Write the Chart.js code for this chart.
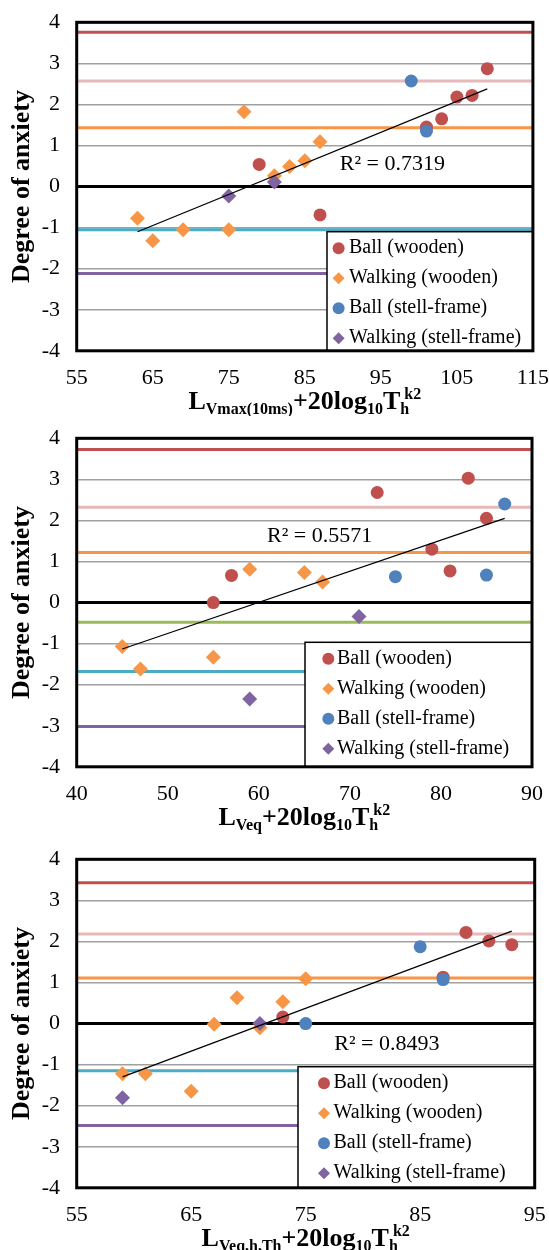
<!DOCTYPE html>
<html>
<head>
<meta charset="utf-8">
<script src="https://cdn.jsdelivr.net/npm/chart.js@4.4.0/dist/chart.umd.min.js"></script>
<style>
  body { margin: 0; background: #fff; width: 549px; height: 1250px; position: relative; overflow: hidden; }
  canvas { position: absolute; left: 0; }
</style>
</head>
<body>
<canvas id="chart1" width="549" height="416" style="top:0px;width:549px;height:416px"></canvas>
<canvas id="chart2" width="549" height="421" style="top:416px;width:549px;height:421px"></canvas>
<canvas id="chart3" width="549" height="413" style="top:837px;width:549px;height:413px"></canvas>
<script>
const seriesNames = ["Ball (wooden)", "Walking (wooden)", "Ball (stell-frame)", "Walking (stell-frame)"];
const seriesColors = ["#C0504D", "#F79646", "#4F81BD", "#8064A2"];
const seriesShapes = ["circle", "rectRot", "circle", "rectRot"];
const yLabel = "Degree of anxiety";
const yTicks = [-4, -3, -2, -1, 0, 1, 2, 3, 4];

// panel 1: L_Vmax(10ms)
const xTicks1 = [55, 65, 75, 85, 95, 105, 115];
const ballWoodX1 = [79, 87, 101, 103, 105, 107, 109];
const ballWoodY1 = [0.54, -0.69, 1.45, 1.65, 2.18, 2.22, 2.87];
const walkWoodX1 = [63, 65, 69, 75, 77, 81, 83, 85, 87];
const walkWoodY1 = [-0.77, -1.32, -1.05, -1.05, 1.82, 0.26, 0.49, 0.63, 1.09];
const ballSteelX1 = [99, 101];
const ballSteelY1 = [2.57, 1.35];
const walkSteelX1 = [75, 81];
const walkSteelY1 = [-0.23, 0.11];
const trendX1 = [63, 109];
const trendY1 = [-1.10, 2.38];
const levels1 = [3.76, 2.57, 1.43, -1.05, -2.12];
const r2Text1 = "R\u00B2 = 0.7319";

// panel 2: L_Veq
const xTicks2 = [40, 50, 60, 70, 80, 90];
const ballWoodX2 = [55, 57, 73, 79, 81, 83, 85];
const ballWoodY2 = [0.0, 0.66, 2.68, 1.30, 0.77, 3.03, 2.05];
const walkWoodX2 = [45, 47, 55, 59, 65, 67];
const walkWoodY2 = [-1.07, -1.62, -1.33, 0.81, 0.73, 0.50];
const ballSteelX2 = [75, 85, 87];
const ballSteelY2 = [0.63, 0.67, 2.40];
const walkSteelX2 = [59, 71];
const walkSteelY2 = [-2.35, -0.34];
const trendX2 = [45, 87];
const trendY2 = [-1.13, 2.05];
const levels2 = [3.73, 2.32, 1.22, -0.48, -1.68, -3.02];
const r2Text2 = "R\u00B2 = 0.5571";

// panel 3: L_Veq,h,Th
const xTicks3 = [55, 65, 75, 85, 95];
const ballWoodX3 = [73, 87, 89, 91, 93];
const ballWoodY3 = [0.16, 1.13, 2.22, 2.01, 1.92];
const walkWoodX3 = [59, 61, 65, 67, 69, 71, 73, 75];
const walkWoodY3 = [-1.22, -1.22, -1.65, -0.02, 0.63, -0.10, 0.53, 1.09];
const ballSteelX3 = [75, 85, 87];
const ballSteelY3 = [0.0, 1.87, 1.07];
const walkSteelX3 = [59, 71];
const walkSteelY3 = [-1.81, 0.0];
const trendX3 = [59, 93];
const trendY3 = [-1.30, 2.25];
const levels3 = [3.43, 2.18, 1.11, -1.15, -2.48];
const r2Text3 = "R\u00B2 = 0.8493";

const levelColors1 = ["#C0504D", "#E6B9B8", "#F79646", "#4BACC6", "#8064A2"];
const levelColors2 = ["#C0504D", "#E6B9B8", "#F79646", "#9BBB59", "#4BACC6", "#8064A2"];
const levelColors3 = ["#C0504D", "#E6B9B8", "#F79646", "#4BACC6", "#8064A2"];

const SERIF = "'Liberation Serif', 'Times New Roman', serif";
const AREA_TOP = 22.3;
const AREA_BOTTOM = 350.8;

function pts(xs, ys) {
  return xs.map((v, i) => ({ x: v, y: ys[i] }));
}

function markerPath(ctx, shape, x, y, r) {
  ctx.beginPath();
  if (shape === "circle") {
    ctx.arc(x, y, r, 0, Math.PI * 2);
  } else {
    ctx.moveTo(x - r, y);
    ctx.lineTo(x, y - r);
    ctx.lineTo(x + r, y);
    ctx.lineTo(x, y + r);
    ctx.closePath();
  }
  ctx.fill();
}

// title parts: [text, 0 normal | 1 sub | 2 sup]
function drawRichTitle(ctx, parts, cx, baseY) {
  const mainFont = "bold 26px " + SERIF;
  const smallFont = "bold 16px " + SERIF;
  const items = [];
  let x = 0, lastSubX = null;
  parts.forEach(([t, k]) => {
    ctx.font = k === 0 ? mainFont : smallFont;
    const w = ctx.measureText(t).width;
    if (k === 2 && lastSubX !== null) {
      const sx = lastSubX + 4;
      items.push({ t, k, x: sx });
      x = Math.max(x, sx + w);
    } else {
      items.push({ t, k, x });
      lastSubX = k === 1 ? x : null;
      x += w;
    }
  });
  const start = cx - x / 2;
  ctx.fillStyle = "#000";
  ctx.textBaseline = "alphabetic";
  ctx.textAlign = "left";
  items.forEach(it => {
    ctx.font = it.k === 0 ? mainFont : smallFont;
    const dy = it.k === 1 ? 5 : it.k === 2 ? -10 : 0;
    ctx.fillText(it.t, start + it.x, baseY + dy);
  });
}

const panelDecor = {
  id: "panelDecor",
  afterDatasetsDraw(chart, args, opts) {
    const { ctx, chartArea: a, scales: { x, y } } = chart;
    ctx.save();

    ctx.font = "22px " + SERIF;
    ctx.fillStyle = "#000";
    ctx.textBaseline = "middle";
    ctx.textAlign = "left";
    ctx.fillText(opts.r2, x.getPixelForValue(opts.r2At[0]), y.getPixelForValue(opts.r2At[1]));

    const L = opts.legend;
    ctx.fillStyle = "#fff";
    ctx.fillRect(L.left, L.top, a.right - L.left, a.bottom - L.top);
    ctx.strokeStyle = "#000";
    ctx.lineWidth = 1.5;
    ctx.strokeRect(L.left, L.top, a.right - L.left, a.bottom - L.top);
    ctx.font = "20px " + SERIF;
    seriesNames.forEach((name, i) => {
      const cy = L.top + 16.5 + i * 30;
      ctx.fillStyle = seriesColors[i];
      markerPath(ctx, seriesShapes[i], L.mark, cy, 6);
      ctx.fillStyle = "#000";
      ctx.fillText(name, L.text, cy);
    });

    ctx.strokeStyle = "#000";
    ctx.lineWidth = 3;
    ctx.strokeRect(a.left, a.top, a.right - a.left, a.bottom - a.top);

    drawRichTitle(ctx, opts.title, (a.left + a.right) / 2, 409);
    ctx.restore();
  }
};

function makeChart(id, p) {
  const canvas = document.getElementById(id);
  const H = canvas.height;
  const datasets = [];

  p.levels.forEach((v, i) => {
    datasets.push({
      data: [{ x: p.xTicks[0], y: v }, { x: p.xTicks[p.xTicks.length - 1], y: v }],
      showLine: true,
      borderColor: p.levelColors[i],
      borderWidth: 3,
      pointRadius: 0,
      order: 10
    });
  });

  p.series.forEach((s, i) => {
    datasets.push({
      label: seriesNames[i],
      data: pts(s[0], s[1]),
      pointStyle: seriesShapes[i],
      pointRadius: seriesShapes[i] === "circle" ? 6.5 : 7.5,
      pointBorderWidth: 0,
      backgroundColor: seriesColors[i],
      borderColor: seriesColors[i],
      order: 6 - i
    });
  });

  datasets.push({
    data: pts(p.trend[0], p.trend[1]),
    showLine: true,
    borderColor: "#000",
    borderWidth: 1.2,
    pointRadius: 0,
    order: 0
  });

  return new Chart(canvas, {
    type: "scatter",
    data: { datasets },
    options: {
      responsive: false,
      animation: false,
      devicePixelRatio: 1,
      events: [],
      layout: { padding: { top: AREA_TOP, right: 549 - p.areaRight, left: 0, bottom: 0 } },
      plugins: {
        legend: { display: false },
        tooltip: { enabled: false },
        panelDecor: { r2: p.r2, r2At: p.r2At, legend: p.legend, title: p.title }
      },
      scales: {
        x: {
          type: "linear",
          min: p.xTicks[0],
          max: p.xTicks[p.xTicks.length - 1],
          afterBuildTicks: s => { s.ticks = p.xTicks.map(v => ({ value: v })); },
          afterFit: s => { s.height = H - AREA_BOTTOM; },
          // tick padding would also widen the side margins, so the labels are pushed down with lineHeight instead
          ticks: { font: { family: SERIF, size: 22, lineHeight: 2.5 }, color: "#000", padding: 0, maxRotation: 0 },
          grid: { display: false, drawTicks: false },
          border: { display: false }
        },
        y: {
          min: -4,
          max: 4,
          afterBuildTicks: s => { s.ticks = yTicks.map(v => ({ value: v })); },
          afterFit: s => { s.width = 76.7; },
          ticks: { font: { family: SERIF, size: 22, lineHeight: 0.4 }, color: "#000", padding: 16.7 },
          grid: {
            drawTicks: false,
            color: c => (c.tick && c.tick.value === 0 ? "#000" : "#a0a0a0"),
            lineWidth: c => (c.tick && c.tick.value === 0 ? 3 : 1.5)
          },
          border: { display: false },
          title: {
            display: true,
            text: yLabel,
            color: "#000",
            font: { family: SERIF, size: 26, weight: "bold" },
            padding: { top: 7, bottom: 0 }
          }
        }
      }
    },
    plugins: [panelDecor]
  });
}

makeChart("chart1", {
  xTicks: xTicks1,
  levels: levels1,
  levelColors: levelColors1,
  series: [[ballWoodX1, ballWoodY1], [walkWoodX1, walkWoodY1], [ballSteelX1, ballSteelY1], [walkSteelX1, walkSteelY1]],
  trend: [trendX1, trendY1],
  r2: r2Text1,
  r2At: [89.6, 0.545],
  areaRight: 533,
  legend: { left: 327, top: 231.7, mark: 338.6, text: 349 },
  title: [["L", 0], ["Vmax(10ms)", 1], ["+20log", 0], ["10", 1], ["T", 0], ["h", 1], ["k2", 2]]
});

makeChart("chart2", {
  xTicks: xTicks2,
  levels: levels2,
  levelColors: levelColors2,
  series: [[ballWoodX2, ballWoodY2], [walkWoodX2, walkWoodY2], [ballSteelX2, ballSteelY2], [walkSteelX2, walkSteelY2]],
  trend: [trendX2, trendY2],
  r2: r2Text2,
  r2At: [60.9, 1.61],
  areaRight: 532,
  legend: { left: 305, top: 226.3, mark: 328.3, text: 337 },
  title: [["L", 0], ["Veq", 1], ["+20log", 0], ["10", 1], ["T", 0], ["h", 1], ["k2", 2]]
});

makeChart("chart3", {
  xTicks: xTicks3,
  levels: levels3,
  levelColors: levelColors3,
  series: [[ballWoodX3, ballWoodY3], [walkWoodX3, walkWoodY3], [ballSteelX3, ballSteelY3], [walkSteelX3, walkSteelY3]],
  trend: [trendX3, trendY3],
  r2: r2Text3,
  r2At: [77.5, -0.5],
  areaRight: 534.7,
  legend: { left: 298, top: 229.7, mark: 324, text: 333.5 },
  title: [["L", 0], ["Veq,h,Th", 1], ["+20log", 0], ["10", 1], ["T", 0], ["h", 1], ["k2", 2]]
});
</script>
</body>
</html>
